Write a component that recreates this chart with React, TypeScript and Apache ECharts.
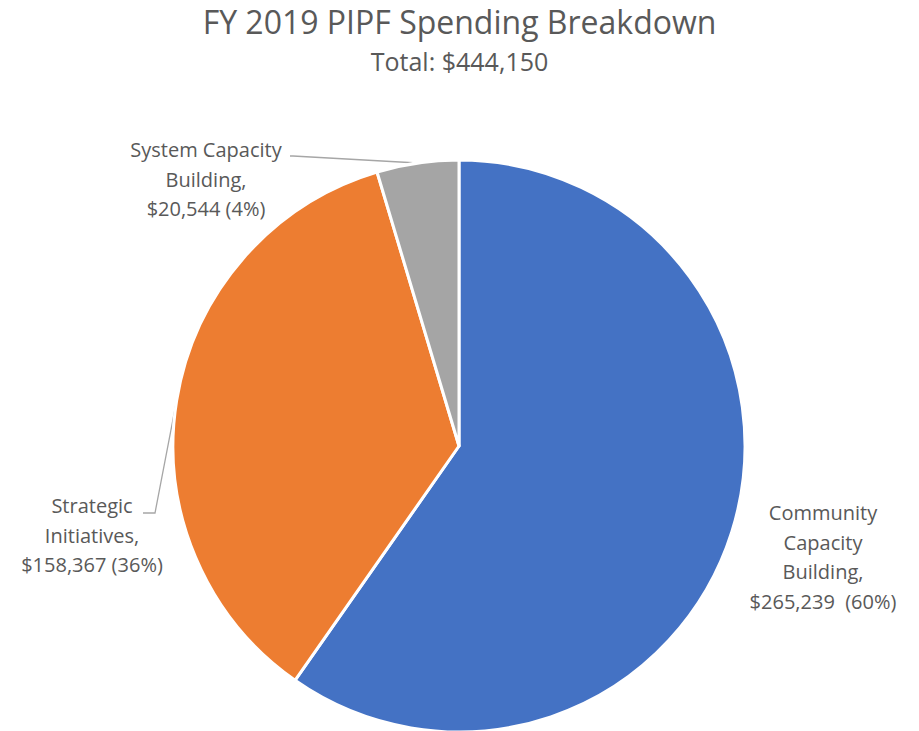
import React, { useEffect, useRef } from "react";
import * as echarts from "echarts";

const categories = ["Community Capacity Building", "Strategic Initiatives", "System Capacity Building"];
const labelTexts = [
  "Community\nCapacity\nBuilding,\n$265,239  (60%)",
  "Strategic\nInitiatives,\n$158,367 (36%)",
  "System Capacity\nBuilding,\n$20,544 (4%)",
];
const values = [265239, 158367, 20544];
const colors = ["#4472C4", "#ED7D31", "#A5A5A5"];
const titleText = "FY 2019 PIPF Spending Breakdown";
const subtitleText = "Total: $444,150";

const FONT = "'Open Sans', sans-serif";

export default function App() {
  const ref = useRef<HTMLDivElement>(null);
  useEffect(() => {
    if (!ref.current) return;
    const chart = echarts.init(ref.current, null, { renderer: "svg" });
    // label anchor (center x, top y) and leader-line bend/end points
    const labelPos = [
      { x: 823, y: 498, bend: null as null | number[], end: null as null | number[] },
      { x: 92, y: 491, bend: [155, 513], end: [143, 513] },
      { x: 206, y: 135, bend: [293, 156], end: [290, 156] },
    ];
    chart.setOption({
      animation: false,
      backgroundColor: "#ffffff",
      title: [
        {
          text: titleText,
          left: "center",
          top: 0,
          textStyle: { fontFamily: FONT, fontSize: 32, fontWeight: "normal", color: "#595959" },
        },
        {
          text: subtitleText,
          left: "center",
          top: 43,
          textStyle: { fontFamily: FONT, fontSize: 25, fontWeight: "normal", color: "#595959" },
        },
      ],
      series: [
        {
          type: "pie",
          center: [459, 446],
          radius: [0, 286],
          startAngle: 90,
          clockwise: true,
          itemStyle: { borderColor: "#ffffff", borderWidth: 3 },
          label: {
            show: true,
            fontFamily: FONT,
            fontSize: 20,
            lineHeight: 29.5,
            color: "#595959",
            align: "center",
            overflow: "none",
            formatter: (p: any) => labelTexts[p.dataIndex],
          },
          labelLine: {
            show: true,
            lineStyle: { color: "#A6A6A6", width: 1.3 },
          },
          labelLayout: (p: any) => {
            const lp = labelPos[p.dataIndex];
            const res: any = { x: lp.x, y: lp.y, align: "center", verticalAlign: "top" };
            if (lp.bend && p.labelLinePoints && p.labelLinePoints[0]) {
              res.labelLinePoints = [p.labelLinePoints[0], lp.bend, lp.end];
            }
            return res;
          },
          data: categories.map((c, i) => ({
            name: c,
            value: values[i],
            itemStyle: { color: colors[i] },
            labelLine: { show: i !== 0 },
          })),
        },
      ],
    });
    return () => chart.dispose();
  }, []);
  return (
    <div
      ref={ref}
      style={{ position: "fixed", left: 0, top: 0, width: 919, height: 731, background: "#fff" }}
    />
  );
}
